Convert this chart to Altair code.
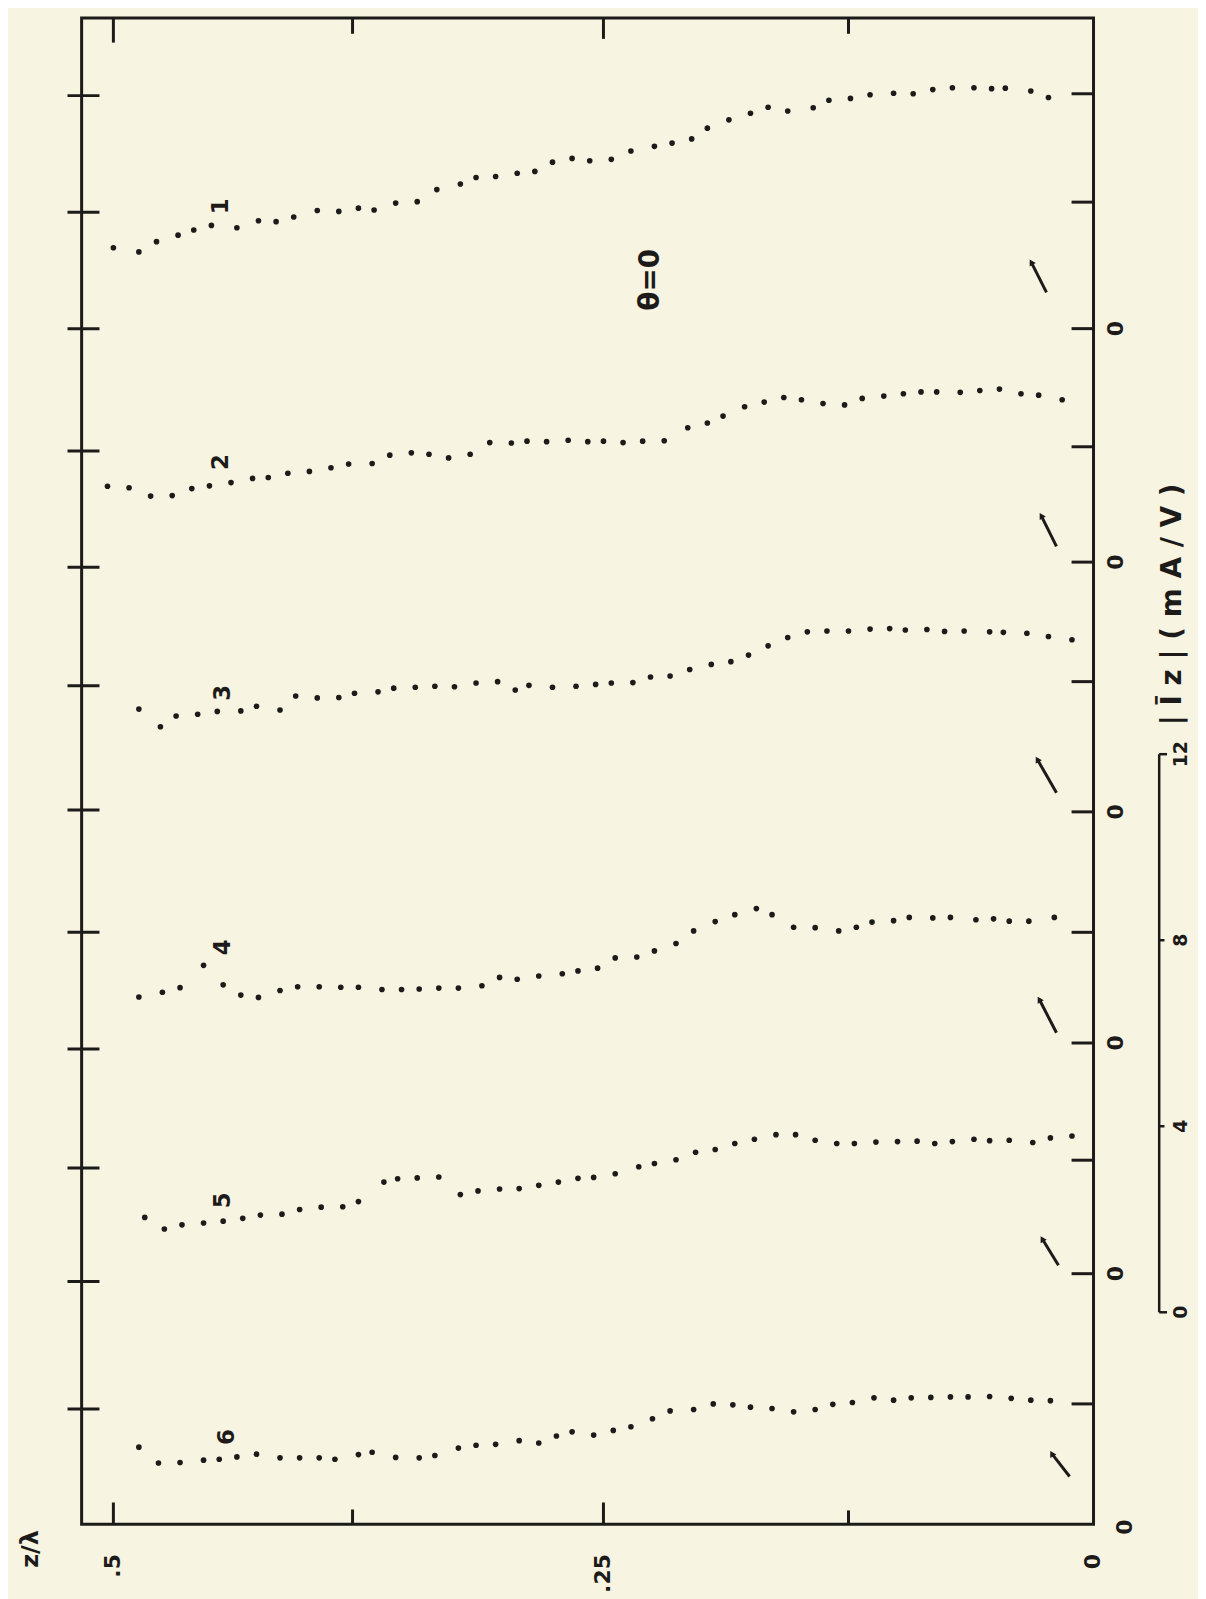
import altair as alt
import pandas as pd

# ---------------- ranges (z/lambda horizontal, stacked |Iz| in mA/V vertical) -------------
Z_MAX = 0.5162
Y_MAX = 32.39

curve_ids = ["1", "2", "3", "4", "5", "6"]
offsets = [25.71, 20.69, 15.32, 10.35, 5.39, 0.0]

c1_z = [0.500,0.487,0.478,0.467,0.459,0.450,0.437,0.426,0.417,0.408,0.396,0.385,0.375,0.367,0.356,0.345,0.335,0.323,0.315,0.305,0.294,0.285,0.276,0.266,0.257,0.246,0.236,0.224,0.215,0.205,0.197,0.186,0.175,0.166,0.156,0.143,0.135,0.124,0.114,0.102,0.092,0.082,0.072,0.061,0.052,0.045,0.032,0.023]
c1_i = [1.74,1.65,1.87,2.01,2.12,2.22,2.17,2.32,2.30,2.40,2.54,2.52,2.59,2.55,2.70,2.73,2.99,3.11,3.25,3.27,3.34,3.38,3.58,3.66,3.61,3.64,3.82,3.92,3.99,4.08,4.31,4.49,4.63,4.76,4.68,4.75,4.91,4.95,5.03,5.06,5.05,5.14,5.18,5.18,5.16,5.17,5.11,4.97]

c2_z = [0.503,0.492,0.481,0.470,0.460,0.451,0.440,0.429,0.421,0.411,0.400,0.389,0.380,0.368,0.359,0.348,0.339,0.329,0.318,0.308,0.297,0.289,0.279,0.268,0.258,0.250,0.240,0.230,0.219,0.207,0.197,0.189,0.178,0.168,0.158,0.149,0.138,0.127,0.118,0.107,0.097,0.088,0.080,0.068,0.058,0.048,0.037,0.028,0.016]
c2_i = [1.63,1.60,1.42,1.43,1.58,1.64,1.71,1.80,1.82,1.91,1.95,2.03,2.11,2.12,2.30,2.35,2.32,2.24,2.32,2.57,2.56,2.60,2.59,2.62,2.59,2.60,2.57,2.60,2.61,2.89,2.99,3.14,3.34,3.44,3.54,3.49,3.41,3.38,3.52,3.57,3.62,3.66,3.66,3.65,3.69,3.72,3.62,3.59,3.49]

c3_z = [0.487,0.476,0.468,0.457,0.447,0.435,0.427,0.415,0.407,0.396,0.385,0.377,0.365,0.357,0.346,0.336,0.326,0.315,0.304,0.295,0.288,0.276,0.264,0.254,0.246,0.235,0.226,0.216,0.206,0.195,0.185,0.176,0.166,0.156,0.146,0.136,0.125,0.114,0.104,0.096,0.085,0.076,0.066,0.053,0.046,0.034,0.023,0.011]
c3_i = [2.21,1.83,2.06,2.10,2.16,2.17,2.27,2.19,2.49,2.45,2.46,2.55,2.58,2.66,2.68,2.70,2.69,2.77,2.80,2.62,2.72,2.68,2.70,2.74,2.77,2.78,2.90,2.92,3.06,3.17,3.23,3.37,3.57,3.75,3.87,3.89,3.89,3.93,3.94,3.91,3.92,3.88,3.89,3.87,3.86,3.84,3.77,3.70]

c4_z = [0.487,0.475,0.466,0.454,0.444,0.435,0.426,0.415,0.406,0.395,0.384,0.375,0.363,0.353,0.344,0.334,0.324,0.312,0.303,0.294,0.283,0.271,0.263,0.253,0.244,0.233,0.224,0.213,0.204,0.193,0.183,0.172,0.164,0.153,0.142,0.130,0.121,0.113,0.102,0.094,0.082,0.073,0.060,0.051,0.043,0.033,0.020]
c4_i = [0.99,1.09,1.19,1.67,1.25,1.03,0.98,1.13,1.21,1.21,1.20,1.20,1.15,1.15,1.16,1.18,1.18,1.23,1.41,1.37,1.44,1.49,1.55,1.61,1.83,1.85,1.98,2.14,2.41,2.61,2.76,2.89,2.76,2.49,2.48,2.41,2.49,2.60,2.63,2.70,2.69,2.70,2.65,2.67,2.62,2.62,2.70]

c5_z = [0.484,0.474,0.465,0.454,0.444,0.434,0.425,0.414,0.405,0.394,0.383,0.375,0.362,0.355,0.345,0.334,0.323,0.314,0.303,0.293,0.283,0.273,0.263,0.255,0.244,0.232,0.224,0.213,0.203,0.193,0.183,0.173,0.162,0.152,0.142,0.131,0.122,0.111,0.100,0.090,0.081,0.072,0.061,0.053,0.043,0.031,0.022,0.011]
c5_i = [1.21,0.96,1.05,1.09,1.13,1.19,1.26,1.28,1.38,1.43,1.44,1.55,1.97,2.04,2.06,2.08,1.70,1.78,1.82,1.83,1.90,1.97,2.05,2.07,2.15,2.30,2.37,2.45,2.61,2.67,2.80,2.89,2.99,2.99,2.87,2.80,2.80,2.83,2.84,2.85,2.80,2.84,2.89,2.86,2.87,2.82,2.92,2.96]

c6_z = [0.487,0.477,0.466,0.454,0.446,0.437,0.427,0.415,0.405,0.395,0.387,0.375,0.368,0.356,0.344,0.336,0.324,0.315,0.305,0.293,0.283,0.274,0.266,0.255,0.245,0.236,0.225,0.216,0.204,0.194,0.184,0.175,0.164,0.153,0.142,0.133,0.123,0.112,0.102,0.093,0.083,0.073,0.064,0.053,0.042,0.032,0.022]
c6_i = [1.66,1.32,1.33,1.38,1.40,1.45,1.51,1.43,1.43,1.43,1.40,1.50,1.55,1.44,1.43,1.48,1.64,1.70,1.72,1.80,1.75,1.90,1.99,1.92,2.02,2.10,2.27,2.44,2.47,2.59,2.57,2.52,2.49,2.42,2.47,2.58,2.62,2.72,2.67,2.72,2.73,2.74,2.74,2.75,2.71,2.67,2.66]

# axis ticks / labels
z_label_values = [0.5, 0.25, 0.0]
z_label_text = [".5", ".25", "0"]
edge_tick_z = [0.5, 0.378, 0.25, 0.125]
top_tick_len = [0.53, 0.34, 0.45, 0.34]
bottom_tick_len = [0.47, 0.32, 0.47, 0.30]
left_tick_y = [30.72, 28.21, 25.71, 23.08, 20.58, 18.03, 15.36, 12.73, 10.22, 7.66, 5.22, 2.48]
right_tick_y = [30.76, 28.43, 25.71, 23.17, 20.69, 18.12, 15.32, 12.73, 10.35, 7.83, 5.39, 2.59]

# curve number labels
label_z = [0.445, 0.445, 0.444, 0.444, 0.444, 0.442]
label_y = [28.34, 22.84, 17.88, 12.41, 6.97, 1.88]

# small arrows near the right end of each curve
arrow_head_z = [0.0318, 0.0267, 0.0287, 0.0277, 0.0262, 0.0213]
arrow_head_y = [27.14, 21.69, 16.45, 11.29, 6.14, 1.52]
arrow_tail_z = [0.0240, 0.0189, 0.0189, 0.0189, 0.0179, 0.0122]
arrow_tail_y = [26.49, 21.03, 15.73, 10.57, 5.57, 1.03]

# current scale bar (mA/V)
bar_values = [0, 4, 8, 12]
bar_base = 4.56
bar_z = -0.0335

INK = "#1d1b19"
FONT = "DejaVu Sans"

# ---------------- data tables ----------------
curves_z = [c1_z, c2_z, c3_z, c4_z, c5_z, c6_z]
curves_i = [c1_i, c2_i, c3_i, c4_i, c5_i, c6_i]
rows = []
for cid, off, zs, ii in zip(curve_ids, offsets, curves_z, curves_i):
    for z, i in zip(zs, ii):
        rows.append({"curve": cid, "z": z, "Y": off + i})
dots = pd.DataFrame(rows)

tick_rows = []
for y in left_tick_y:
    tick_rows.append({"z": 0.5234, "z2": 0.5071, "Y": y, "Y2": y})
for y in right_tick_y:
    tick_rows.append({"z": 0.0112, "z2": 0.0, "Y": y, "Y2": y})
for z, l in zip(edge_tick_z, top_tick_len):
    tick_rows.append({"z": z, "z2": z, "Y": Y_MAX, "Y2": Y_MAX - l})
for z, l in zip(edge_tick_z, bottom_tick_len):
    tick_rows.append({"z": z, "z2": z, "Y": 0.0, "Y2": l})
ticks = pd.DataFrame(tick_rows)

bar_rows = [{"z": bar_z, "z2": bar_z, "Y": bar_base, "Y2": bar_base + 12}]
for v in bar_values:
    end = -0.0375 if v in (0, 12) else -0.0362
    bar_rows.append({"z": bar_z, "z2": end, "Y": bar_base + v, "Y2": bar_base + v})
bar = pd.DataFrame(bar_rows)

arrows = pd.DataFrame({"z": arrow_tail_z, "z2": arrow_head_z,
                       "Y": arrow_tail_y, "Y2": arrow_head_y})
heads = pd.DataFrame({"z": arrow_head_z, "Y": arrow_head_y})

text_rows = []
for cid, z, y in zip(curve_ids, label_z, label_y):
    text_rows.append({"z": z, "Y": y, "t": cid, "fs": 23})
text_rows.append({"z": 0.2259, "Y": 26.76, "t": "θ=0", "fs": 28})
for off in offsets[:5]:
    text_rows.append({"z": -0.0117, "Y": off, "t": "0", "fs": 22})
text_rows.append({"z": -0.0162, "Y": -0.06, "t": "0", "fs": 22})
text_rows.append({"z": -0.0405, "Y": 19.78, "t": "| Ī z |  ( m A / V )", "fs": 28})
text_rows.append({"z": 0.5421, "Y": -0.53, "t": "z/λ", "fs": 24})
for v in bar_values:
    text_rows.append({"z": -0.0448, "Y": bar_base + v, "t": str(v), "fs": 19})
texts = pd.DataFrame(text_rows)

axis_labels = pd.DataFrame({"z": z_label_values, "Y": [-0.64] * 3, "t": z_label_text})

# ---------------- encodings ----------------
xs = alt.Scale(domain=[0, Z_MAX], reverse=True, nice=False, zero=False)
ys = alt.Scale(domain=[0, Y_MAX], nice=False, zero=False)
X = alt.X("z:Q", scale=xs, axis=None)
Y = alt.Y("Y:Q", scale=ys, axis=None)

dot_layer = alt.Chart(dots).mark_circle(size=32, color=INK, opacity=1).encode(x=X, y=Y)
tick_layer = alt.Chart(ticks).mark_rule(color=INK, strokeWidth=3).encode(
    x=X, x2="z2:Q", y=Y, y2="Y2:Q")
bar_layer = alt.Chart(bar).mark_rule(color=INK, strokeWidth=2.5).encode(
    x=X, x2="z2:Q", y=Y, y2="Y2:Q")
arrow_layer = alt.Chart(arrows).mark_rule(color=INK, strokeWidth=3).encode(
    x=X, x2="z2:Q", y=Y, y2="Y2:Q")
head_layer = alt.Chart(heads).mark_point(shape="triangle-up", filled=True, size=50,
                                         angle=330, color=INK, opacity=1).encode(x=X, y=Y)
text_layer = alt.Chart(texts).mark_text(angle=270, font=FONT, color=INK, fontWeight="bold",
                                        align="center", baseline="middle").encode(
    x=X, y=Y, text="t:N", size=alt.Size("fs:Q", scale=None, legend=None))
axis_label_layer = alt.Chart(axis_labels).mark_text(
    angle=270, font=FONT, color=INK, fontWeight="bold", fontSize=22,
    align="right", baseline="middle").encode(x=X, y=Y, text="t:N")

chart = alt.layer(tick_layer, bar_layer, arrow_layer, head_layer, dot_layer,
                  text_layer, axis_label_layer).properties(
    width=1017, height=1514,
    padding={"left": 74, "top": 6, "right": 105, "bottom": 71},
    autosize=alt.AutoSizeParams(type="none"),
    background="#F7F4E2",
).configure_view(stroke=INK, strokeWidth=3)

chart.save("out.html", embed_options={"renderer": "svg", "actions": False})
